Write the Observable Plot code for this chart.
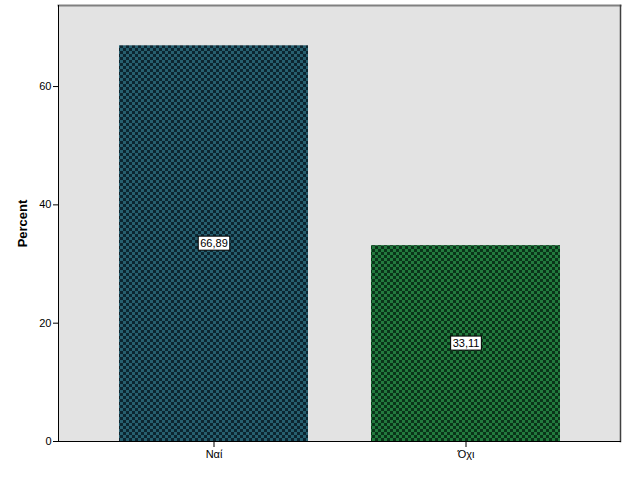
<!DOCTYPE html>
<html><head><meta charset="utf-8">
<script src="https://cdn.jsdelivr.net/npm/d3@7"></script>
<script src="https://cdn.jsdelivr.net/npm/@observablehq/plot@0.6"></script>
<style>
  body { margin: 0; background: #fff; font-family: "Liberation Sans", Arial, sans-serif; }
</style>
</head><body><div id="chart"></div>
<script>
// Answer categories and their share of respondents (%)
const categories = ["Ναί", "Όχι"];
const percents = [66.89, 33.11];
const yTicks = [0, 20, 40, 60];

const data = categories.map((answer, i) => ({answer, percent: percents[i]}));
const fmt = v => v.toFixed(2).replace(".", ",");

const chart = Plot.plot({
  width: 626,
  height: 501,
  marginTop: 5,
  marginRight: 6,
  marginBottom: 60,
  marginLeft: 58,
  style: {fontFamily: "Liberation Sans, Arial, sans-serif", fontSize: "11px", background: "#fff", color: "#000"},
  x: {domain: categories, paddingInner: 0.25, paddingOuter: 0.24, label: null, tickSize: 6, tickPadding: 3},
  y: {domain: [0, 73.7], ticks: yTicks, label: null, tickSize: 5, tickPadding: 2},
  color: {domain: categories, range: ["url(#hatch-teal)", "url(#hatch-green)"]},
  marks: [
    Plot.frame({fill: "#e3e3e3"}),
    Plot.frame({anchor: "top", stroke: "#808080", strokeWidth: 2}),
    Plot.frame({anchor: "right", stroke: "#404040", strokeWidth: 1.5}),
    Plot.barY(data, {x: "answer", y: "percent", fill: "answer"}),
    Plot.frame({anchor: "left", stroke: "#000"}),
    Plot.frame({anchor: "bottom", stroke: "#000"}),
    Plot.text(data, {x: "answer", y: d => d.percent / 2, text: d => fmt(d.percent), fill: "#000", fontSize: 11, className: "value-label"}),
    Plot.text(["Percent"], {frameAnchor: "left", dx: -36, rotate: -90, textAnchor: "middle", fontWeight: "bold", fontSize: 13, fill: "#000"})
  ]
});

// Checkered hatch fills for the bars
const ns = "http://www.w3.org/2000/svg";
const defs = document.createElementNS(ns, "defs");
function hatch(id, dark, light) {
  const p = document.createElementNS(ns, "pattern");
  p.setAttribute("id", id);
  p.setAttribute("patternUnits", "userSpaceOnUse");
  p.setAttribute("width", 6);
  p.setAttribute("height", 6);
  const bg = document.createElementNS(ns, "rect");
  bg.setAttribute("width", 6); bg.setAttribute("height", 6); bg.setAttribute("fill", dark);
  p.appendChild(bg);
  for (const [x, y] of [[0, 0], [3, 3]]) {
    const r = document.createElementNS(ns, "rect");
    r.setAttribute("x", x); r.setAttribute("y", y);
    r.setAttribute("width", 3); r.setAttribute("height", 3);
    r.setAttribute("fill", light);
    p.appendChild(r);
  }
  defs.appendChild(p);
}
hatch("hatch-teal", "#0c2530", "#275f6f");
hatch("hatch-green", "#0a3419", "#237a3e");
chart.insertBefore(defs, chart.firstChild);

document.getElementById("chart").appendChild(chart);

// White boxes behind the value labels
for (const t of chart.querySelectorAll(".value-label text")) {
  const b = t.getBBox();
  const r = document.createElementNS(ns, "rect");
  r.setAttribute("x", b.x - 2);
  r.setAttribute("y", b.y - 1);
  r.setAttribute("width", b.width + 4);
  r.setAttribute("height", b.height + 2);
  r.setAttribute("fill", "#fff");
  r.setAttribute("stroke", "#000");
  r.setAttribute("stroke-width", 1);
  if (t.getAttribute("transform")) r.setAttribute("transform", t.getAttribute("transform"));
  t.parentNode.insertBefore(r, t);
}
</script>
</body></html>
